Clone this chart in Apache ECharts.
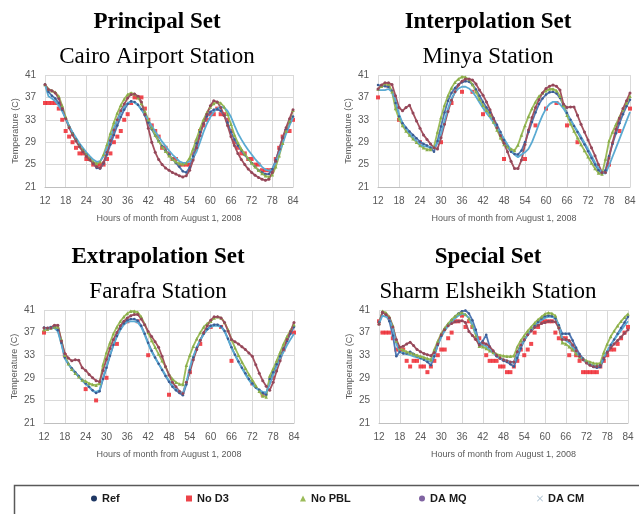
<!DOCTYPE html>
<html>
<head>
<meta charset="utf-8">
<script src="https://cdn.jsdelivr.net/npm/echarts@6/dist/echarts.min.js"></script>
<style>
html, body { margin: 0; padding: 0; background: #fff; }
#chart { width: 639px; height: 514px; }
</style>
</head>
<body>
<div id="chart"></div>
<script>
// hours of month from August 1, 2008
var hours = [12,13,14,15,16,17,18,19,20,21,22,23,
             24,25,26,27,28,29,30,31,32,33,34,35,
             36,37,38,39,40,41,42,43,44,45,46,47,
             48,49,50,51,52,53,54,55,56,57,58,59,
             60,61,62,63,64,65,66,67,68,69,70,71,
             72,73,74,75,76,77,78,79,80,81,82,83,
             84];
var seriesNames = ['Ref', 'No D3', 'No PBL', 'DA MQ', 'DA CM'];

// ---- Cairo Airport Station
var cairoRef = [39.3,38.0,37.3,36.8,36.0,34.8,33.3,31.8,30.6,29.5,28.5,27.6,
                26.8,26.0,25.3,24.4,24.3,25.2,26.8,28.6,30.3,32.0,33.5,34.8,
                35.8,36.3,36.2,35.7,34.9,33.8,32.5,31.3,30.2,29.2,28.3,27.5,
                26.8,26.0,25.3,24.6,23.8,23.6,24.5,26.5,28.8,30.8,32.3,33.6,
                34.4,34.8,34.9,34.6,33.8,32.5,30.8,29.5,28.4,27.5,26.7,26.0,
                25.3,24.6,24.0,23.6,23.3,23.3,24.2,25.8,27.8,29.8,31.3,32.6,
                33.6];
var cairoNoD3 = [36,36,36,36,35,33,31,30,29,28,27,27,
                 26,26,25,25,25,25,26,27,29,30,31,33,
                 34,36,37,37,37,35,33,32,31,30,28,28,
                 27,26,26,25,25,25,25,27,29,31,32,33,
                 34,34,35,34,34,33,31,29,28,27,27,26,
                 26,25,25,24,24,24,24,26,28,30,31,31,
                 33];
var cairoNoPBL = [39.3,38.5,38.2,37.9,37.2,35.5,33.5,31.8,30.5,29.4,28.4,27.6,
                  26.8,26.1,25.5,25.2,25.5,26.8,28.6,30.6,32.5,34.2,35.6,36.7,
                  37.5,37.8,37.6,37.0,35.9,34.5,33.0,31.6,30.3,29.2,28.2,27.4,
                  26.6,26.0,25.5,25.2,25.1,25.3,26.2,27.8,29.6,31.4,33.0,34.3,
                  35.3,35.9,36.2,36.0,35.3,34.0,32.2,30.3,28.9,27.8,26.9,26.1,
                  25.3,24.6,24.0,23.4,23.0,22.8,23.2,24.6,26.6,28.8,31.0,32.8,
                  34.7];
var cairoDAMQ = [39.3,38.4,38.2,37.8,36.8,35.0,33.2,31.6,30.3,29.2,28.2,27.3,
                 26.5,25.8,25.2,24.6,24.4,25.4,27.2,29.3,31.2,33.0,34.6,35.8,
                 36.9,37.5,37.6,37.2,36.2,34.0,31.5,29.0,27.2,25.9,25.0,24.4,
                 24.0,23.6,23.3,23.0,22.8,23.0,24.0,25.8,28.0,30.2,32.3,34.0,
                 35.5,36.4,36.2,35.2,33.8,32.0,30.0,28.4,27.0,25.9,25.0,24.2,
                 23.6,23.1,22.7,22.4,22.2,22.4,23.6,25.6,27.8,29.8,31.6,33.2,
                 34.8];
var cairoDACM = [39.3,37.2,36.8,36.3,35.5,34.5,33.2,31.9,30.8,29.8,28.8,28.0,
                 27.2,26.5,25.9,25.5,25.6,26.5,28.0,29.8,31.5,33.0,34.3,35.3,
                 36.0,36.3,36.1,35.6,34.8,33.9,32.9,31.9,30.9,30.0,29.1,28.3,
                 27.5,26.8,26.2,25.6,25.3,25.3,25.6,26.2,27.3,29.0,30.8,32.3,
                 33.5,34.4,35.0,35.3,35.2,34.6,33.5,32.0,30.6,29.5,28.5,27.6,
                 26.8,26.0,25.3,24.6,24.1,23.9,24.2,25.4,27.0,28.8,30.5,32.0,
                 33.4];

// ---- Minya Station
var minyaRef = [39.2,39.1,39.0,38.9,38.2,36.0,33.6,32.4,31.6,30.9,30.3,29.7,
                29.1,28.7,28.4,28.0,27.3,29.2,31.8,34.3,36.4,37.8,38.7,39.3,
                39.7,39.9,39.8,39.3,38.4,37.3,36.2,35.2,34.3,33.3,32.1,30.8,
                29.4,28.2,27.3,26.9,26.8,27.5,29.0,30.8,32.6,34.3,35.8,36.8,
                37.5,37.9,38.0,37.7,36.9,35.6,34.2,33.0,31.9,30.8,29.7,28.6,
                27.4,26.2,25.0,24.0,23.3,24.0,26.5,28.7,30.6,32.4,34.0,35.4,
                36.6];
var minyaNoD3 = [37,null,null,39,null,null,33,null,null,null,null,null,
                 29,null,null,null,null,null,29,null,null,36,null,null,
                 38,null,null,38,null,null,34,null,null,null,null,null,
                 26,null,null,null,null,null,26,null,null,32,null,null,
                 35,null,null,36,null,null,32,null,null,29,null,null,
                 null,null,null,null,null,null,25,null,null,31,null,null,
                 35];
var minyaNoPBL = [38.5,39.0,39.5,39.4,38.0,35.0,33.2,32.0,31.0,30.3,29.6,29.0,
                  28.4,28.0,27.7,27.7,28.2,30.8,33.4,35.6,37.3,38.7,39.7,40.3,
                  40.7,40.6,40.2,39.3,38.0,36.7,35.6,34.7,33.8,32.6,31.2,29.8,
                  28.6,28.2,27.8,27.5,28.5,30.3,32.0,33.6,35.0,36.2,37.2,37.8,
                  38.2,38.5,38.5,38.2,37.2,35.6,33.8,32.3,31.0,29.8,28.6,27.5,
                  26.4,25.3,24.3,23.5,23.3,26.0,29.2,30.8,32.2,33.5,34.8,36.0,
                  37.2];
var minyaDAMQ = [38.5,39.2,39.6,39.6,39.3,37.3,35.2,34.6,35.2,35.6,34.2,32.8,
                 31.5,30.3,29.5,28.7,28.0,27.8,29.8,32.2,34.5,36.5,38.0,39.2,
                 39.9,40.3,40.3,40.1,39.4,38.3,37.4,36.2,34.8,33.2,31.6,30.2,
                 28.8,27.3,25.6,24.3,24.3,25.8,28.6,31.2,33.4,35.2,36.6,37.8,
                 38.6,39.0,39.2,39.0,38.3,35.8,35.2,35.3,35.3,33.8,32.2,30.8,
                 29.4,28.0,26.6,25.0,23.6,23.6,26.2,28.9,31.3,33.3,35.0,36.4,
                 37.8];
var minyaDACM = [38.3,38.3,38.3,38.5,38.0,36.5,34.0,32.4,31.4,30.6,29.8,29.2,
                 28.6,28.3,28.2,28.1,28.0,28.8,30.5,32.8,35.0,36.8,37.9,38.6,
                 38.9,38.9,38.6,38.0,37.1,36.1,35.1,34.2,33.4,32.5,31.6,30.6,
                 29.6,28.6,27.6,26.8,26.3,26.8,27.2,27.8,29.0,30.6,32.3,33.8,
                 35.0,35.8,36.2,36.2,35.8,35.0,34.0,33.0,32.0,31.0,30.0,28.9,
                 27.8,26.6,25.4,24.3,23.6,23.4,24.8,26.4,28.0,29.6,31.2,32.8,
                 34.4];

// ---- Farafra Station
var farafraRef = [37.9,37.8,38.0,38.0,37.4,35.2,32.6,31.5,30.7,30.0,29.3,28.6,
                  28.0,27.4,26.8,26.3,26.6,28.8,30.8,32.9,34.8,36.4,37.7,38.6,
                  39.2,39.4,39.4,39.1,38.2,36.8,35.2,33.8,32.6,31.5,30.4,29.3,
                  28.3,27.4,26.8,26.3,25.9,27.8,30.4,32.6,34.3,35.7,36.8,37.6,
                  38.2,38.4,38.4,38.1,37.3,35.9,34.4,33.1,31.9,30.8,29.8,28.8,
                  28.0,27.3,26.9,26.3,26.0,28.8,30.0,31.4,32.8,34.2,35.5,36.8,
                  38.0];
var farafraNoD3 = [37,null,null,38,null,null,33,null,null,null,null,null,
                   27,null,null,25,null,null,29,null,null,35,null,null,
                   39,null,null,39,null,null,33,null,null,null,null,null,
                   26,null,null,null,null,null,30,null,null,35,null,null,
                   38,null,null,38,null,null,32,null,null,null,null,null,
                   28,null,null,26,null,null,29,null,null,34,null,null,
                   37];
var farafraNoPBL = [37.5,37.6,37.8,38.0,38.0,35.8,33.0,31.5,30.5,29.8,29.2,28.6,
                    28.4,28.0,27.8,27.7,28.0,31.3,33.5,35.2,36.8,38.0,39.0,39.8,
                    40.4,40.8,40.8,40.6,39.8,38.5,37.0,35.6,34.4,33.2,32.0,31.0,
                    29.6,28.8,28.2,27.9,27.8,31.2,33.0,34.6,35.9,37.0,38.0,38.6,
                    39.0,39.6,39.8,39.6,38.8,37.5,35.8,34.3,33.0,31.8,30.7,29.6,
                    28.6,27.6,26.6,25.8,25.6,29.3,30.6,32.0,33.5,35.0,36.3,37.4,
                    38.4];
var farafraDAMQ = [37.8,37.8,37.8,38.3,38.3,35.5,33.3,32.5,32.0,32.2,32.1,30.8,
                   30.3,29.6,29.0,28.5,28.3,30.3,32.3,34.2,35.8,37.0,38.2,39.0,
                   39.6,40.0,40.2,40.2,39.4,38.4,37.2,36.3,35.4,34.4,32.8,31.0,
                   29.5,28.2,27.4,26.6,26.2,28.2,30.0,32.2,34.0,35.6,37.0,38.2,
                   39.2,39.8,39.8,39.6,38.8,37.3,35.8,35.4,35.0,34.5,34.0,33.4,
                   32.8,31.3,29.8,28.5,27.5,26.8,28.2,30.2,32.0,34.0,35.8,37.2,
                   38.8];
var farafraDACM = [37.8,37.6,37.8,37.8,37.2,35.0,32.4,31.4,30.6,29.9,29.2,28.5,
                   27.9,27.3,26.7,26.5,26.8,29.0,31.0,33.0,34.8,36.3,37.5,38.4,
                   38.9,39.0,39.0,38.8,38.0,36.6,35.0,33.6,32.5,31.5,30.5,29.5,
                   28.5,27.6,27.0,26.6,26.2,28.2,30.8,32.8,34.4,35.7,36.7,37.5,
                   38.0,38.2,38.2,38.0,37.2,35.8,34.3,33.0,31.8,30.7,29.6,28.6,
                   27.8,27.2,26.8,26.5,26.4,27.8,29.5,31.0,32.4,33.6,34.8,35.8,
                   36.8];

// ---- Sharm Elsheikh Station
var sharmRef = [38.8,40.6,40.2,39.0,36.5,32.8,33.6,33.3,33.3,33.6,33.2,32.8,
                32.5,32.2,31.8,31.2,32.8,34.8,36.4,37.6,38.5,39.2,39.8,40.4,
                40.8,40.9,40.4,39.2,37.5,35.0,35.5,36.6,34.5,33.6,32.8,32.4,
                32.0,31.8,31.4,31.0,32.5,34.2,35.6,36.6,37.4,38.2,38.9,39.5,
                39.9,40.0,39.9,39.5,38.3,36.8,36.8,36.8,35.6,34.3,33.2,32.4,
                31.8,31.3,30.9,30.8,30.9,32.3,33.6,34.8,35.8,36.8,37.8,38.8,
                39.8];
var sharmNoD3 = [39,37,37,37,36,34,34,34,32,31,32,32,
                 31,31,30,31,32,33,34,34,36,37,39,39,
                 40,38,39,38,36,36,35,33,32,32,32,31,
                 31,30,30,31,32,34,33,34,35,37,38,39,
                 39,39,39,37,36,36,36,33,34,33,32,30,
                 30,30,30,30,31,32,33,34,34,35,36,37,
                 38];
var sharmNoPBL = [38.6,40.8,40.5,39.8,38.2,35.5,34.2,33.9,33.6,33.4,33.2,33.0,
                  32.8,32.6,32.4,32.2,34.0,35.5,36.8,37.8,38.6,39.3,39.9,40.4,
                  40.5,40.2,39.5,38.2,36.5,34.6,34.5,34.2,33.8,33.5,33.2,33.0,
                  32.9,32.8,32.8,32.9,34.5,35.6,36.5,37.3,38.0,38.7,39.3,39.8,
                  40.3,40.5,40.4,40.0,38.0,35.2,35.0,34.5,34.0,33.3,32.7,32.3,
                  32.0,31.8,31.6,31.5,31.6,33.5,35.0,36.3,37.3,38.2,39.0,39.7,
                  40.3];
var sharmDAMQ = [38.5,40.6,40.2,39.6,38.0,35.8,34.4,34.6,35.0,35.3,34.7,34.0,
                 33.6,33.3,33.1,32.9,33.5,35.0,36.6,37.5,38.2,38.6,38.9,39.0,
                 39.1,38.8,37.2,36.5,35.8,34.8,35.2,35.0,34.5,33.8,33.0,32.5,
                 32.2,32.0,31.8,31.8,33.6,34.8,35.8,36.6,37.3,37.9,38.3,38.6,
                 38.8,39.0,39.0,38.9,37.8,35.8,35.8,35.6,34.8,33.8,32.8,32.2,
                 31.6,31.2,31.0,31.0,31.2,32.5,33.5,34.3,35.0,35.6,36.2,36.9,
                 37.5];
var sharmDACM = [38.6,40.0,39.8,39.4,37.8,35.0,33.6,33.4,33.2,33.0,32.8,32.6,
                 32.4,32.2,32.0,31.8,33.0,34.8,36.2,37.3,38.2,38.9,39.5,40.0,
                 40.3,40.2,39.6,38.4,36.8,35.2,34.8,34.6,34.0,33.4,32.8,32.4,
                 32.2,32.0,31.8,31.6,33.2,34.6,35.7,36.6,37.4,38.1,38.7,39.2,
                 39.6,39.8,39.8,39.5,38.4,36.0,35.6,35.2,34.4,33.6,32.8,32.2,
                 31.8,31.4,31.2,31.1,31.2,32.6,33.8,34.8,35.7,36.6,37.4,38.2,
                 39.0];

var panels = [
    { set: 'Principal Set', station: 'Cairo Airport Station',
      data: [cairoRef, cairoNoD3, cairoNoPBL, cairoDAMQ, cairoDACM],
      grid: { left: 45, top: 75, width: 248, height: 112 }, cx: 157, cy: 20 },
    { set: 'Interpolation Set', station: 'Minya Station',
      data: [minyaRef, minyaNoD3, minyaNoPBL, minyaDAMQ, minyaDACM],
      grid: { left: 378, top: 75, width: 252, height: 112 }, cx: 488, cy: 20 },
    { set: 'Extrapolation Set', station: 'Farafra Station',
      data: [farafraRef, farafraNoD3, farafraNoPBL, farafraDAMQ, farafraDACM],
      grid: { left: 44, top: 310, width: 250, height: 113 }, cx: 158, cy: 255 },
    { set: 'Special Set', station: 'Sharm Elsheikh Station',
      data: [sharmRef, sharmNoD3, sharmNoPBL, sharmDAMQ, sharmDACM],
      grid: { left: 379, top: 310, width: 249, height: 113 }, cx: 488, cy: 255 }
];

// look of each series (order as in seriesNames)
var looks = [
    { line: '#4F77B3', mark: '#3B5C92', symbol: 'circle', size: 2.5, icon: 'circle', legend: '#1F3864' },
    { line: null, mark: '#EE1C24', symbol: 'rect', size: 4, icon: 'rect', legend: '#E8141C' },
    { line: '#9BBB59', mark: '#8AAE4A', symbol: 'triangle', size: 3.5, icon: 'triangle', legend: '#9BBB59' },
    { line: '#A3505E', mark: '#93475A', symbol: 'circle', size: 3, icon: 'circle', legend: '#8064A2' },
    { line: '#5AAAD2', mark: '#5AAAD2', symbol: 'none', size: 0,
      icon: 'path://M0,1L1,0L5,4L9,0L10,1L6,5L10,9L9,10L5,6L1,10L0,9L4,5Z', legend: '#A9BFCF' }
];
var drawOrder = [0, 2, 3, 4, 1];

function pairs(vals) {
    var out = [];
    for (var i = 0; i < hours.length; i++) {
        if (vals[i] != null) out.push([hours[i], vals[i]]);
    }
    return out;
}

var titles = [], grids = [], xAxes = [], yAxes = [], series = [];
panels.forEach(function (p, k) {
    titles.push({ text: p.set, left: p.cx, top: p.cy - 9, padding: 0, textAlign: 'center',
        textStyle: { fontFamily: 'Liberation Serif', fontWeight: 'bold', fontSize: 23, color: '#000' } });
    titles.push({ text: p.station, left: p.cx, top: p.cy + 25, padding: 0, textAlign: 'center',
        textStyle: { fontFamily: 'Liberation Serif', fontWeight: 'normal', fontSize: 23, color: '#000' } });
    grids.push(p.grid);
    xAxes.push({
        type: 'value', gridIndex: k, min: 12, max: 84, interval: 6,
        name: 'Hours of month from August 1, 2008', nameLocation: 'middle', nameGap: 27,
        nameTextStyle: { fontFamily: 'Liberation Sans', fontSize: 9, color: '#595959' },
        axisLine: { show: true, lineStyle: { color: '#BFBFBF' } },
        axisTick: { show: false },
        axisLabel: { fontFamily: 'Liberation Sans', fontSize: 10, color: '#595959', margin: 9 },
        splitLine: { show: true, lineStyle: { color: '#D9D9D9', width: 1 } }
    });
    yAxes.push({
        type: 'value', gridIndex: k, min: 21, max: 41, interval: 4,
        name: 'Temperature (C)', nameLocation: 'middle', nameGap: 25,
        nameTextStyle: { fontFamily: 'Liberation Sans', fontSize: 9, color: '#595959' },
        axisLine: { show: false }, axisTick: { show: false },
        axisLabel: { fontFamily: 'Liberation Sans', fontSize: 10, color: '#595959', margin: 9 },
        splitLine: { show: true, lineStyle: { color: '#D9D9D9', width: 1 } }
    });
    drawOrder.forEach(function (s) {
        var lk = looks[s];
        var item = {
            name: seriesNames[s], xAxisIndex: k, yAxisIndex: k,
            data: pairs(p.data[s]),
            symbol: lk.symbol, symbolSize: lk.size,
            itemStyle: { color: lk.mark },
            emphasis: { disabled: true }, silent: true
        };
        if (lk.line) {
            item.type = 'line';
            item.showSymbol = lk.symbol !== 'none';
            item.lineStyle = { color: lk.line, width: 1.8 };
        } else {
            item.type = 'scatter';
        }
        series.push(item);
    });
});

// one small legend per entry, placed along the framed strip
var legendLeft = [86, 181, 295, 414, 532];
var legends = seriesNames.map(function (n, s) {
    return {
        left: legendLeft[s], top: 488, itemWidth: 6, itemHeight: 6, itemGap: 0,
        selectedMode: false,
        textStyle: { fontFamily: 'Liberation Sans', fontWeight: 'bold', fontSize: 11, color: '#1a1a1a' },
        data: [{ name: n, icon: looks[s].icon, itemStyle: { color: looks[s].legend } }]
    };
});

var chart = echarts.init(document.getElementById('chart'), null, { renderer: 'canvas' });
chart.setOption({
    animation: false,
    backgroundColor: '#fff',
    title: titles,
    legend: legends,
    grid: grids,
    xAxis: xAxes,
    yAxis: yAxes,
    series: series,
    graphic: [{
        type: 'rect', left: 12, top: 483,
        shape: { width: 640, height: 50 },
        style: { fill: 'none', stroke: '#595959', lineWidth: 1.5 }
    }]
});
</script>
</body>
</html>
